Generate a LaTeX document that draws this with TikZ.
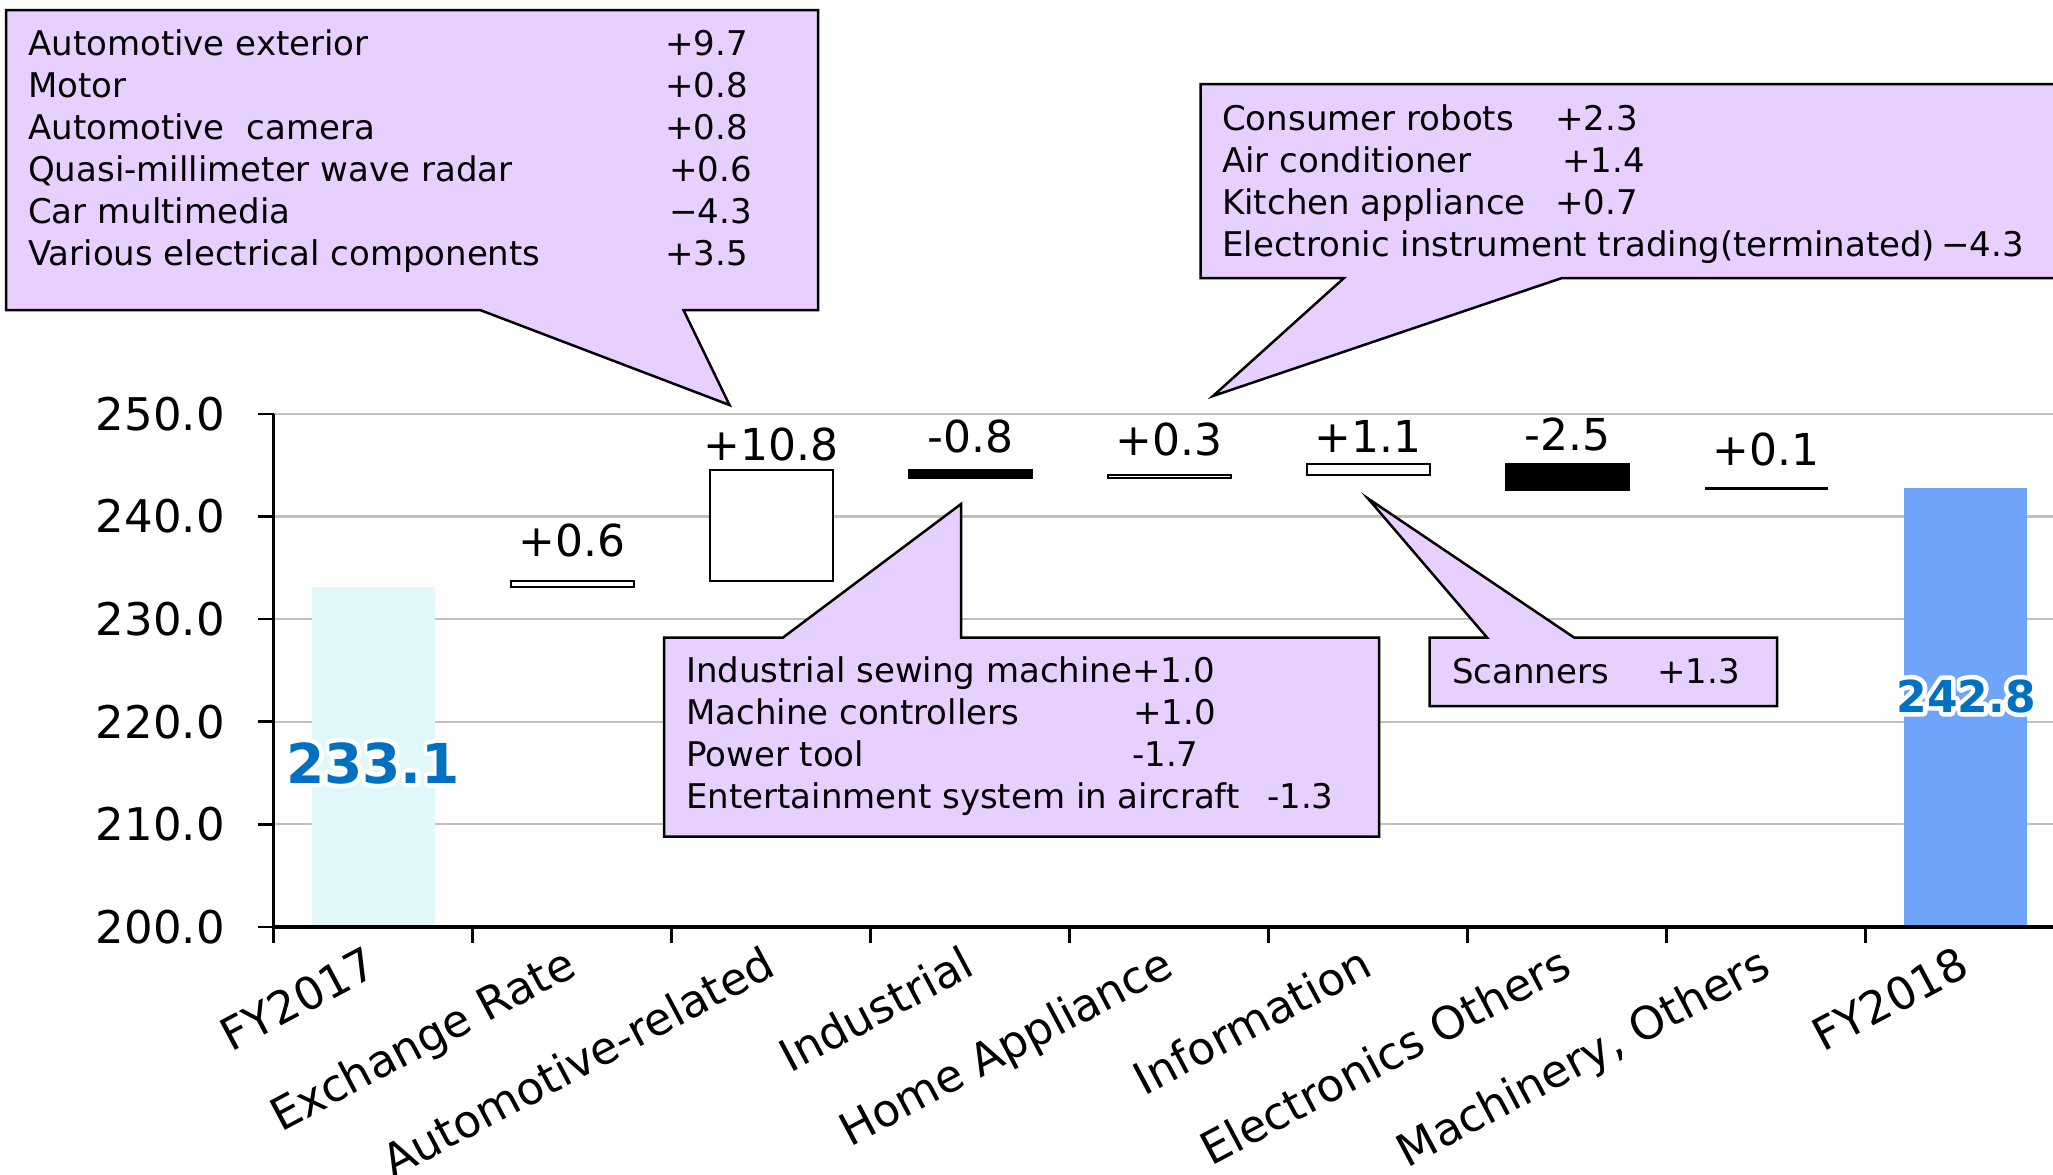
\documentclass[tikz,border=0pt]{standalone}
\usepackage{fontspec}
\setmainfont{DejaVu Sans}
\definecolor{gridgray}{RGB}{192,192,192}
\definecolor{startbar}{RGB}{224,248,250}
\definecolor{endbar}{RGB}{110,165,250}
\definecolor{valblue}{RGB}{0,112,192}
\definecolor{calloutfill}{RGB}{231,208,255}
% white outlined copy of a label, used as a glow behind the totals
\newcommand\glowcopy[1]{\special{pdf:literal direct q 1 j 1 1 1 RG 1 1 1 rg 2 Tr 9 w}#1\special{pdf:literal direct Q}}
\begin{document}
\begin{tikzpicture}[x=1pt,y=-1pt,
  gridline/.style={draw=gridgray,line width=2.2pt},
  axisline/.style={draw=black,line width=3.5pt},
  tickline/.style={draw=black,line width=2.5pt},
  ylabel/.style={font=\fontsize{45}{54}\selectfont,anchor=east,inner sep=0pt},
  catlabel/.style={font=\fontsize{45}{54}\selectfont,anchor=base east,rotate=28,inner sep=0pt},
  deltalabel/.style={font=\fontsize{44}{52}\selectfont,anchor=base,inner sep=0pt},
  upbar/.style={fill=white,draw=black,line width=2pt},
  downbar/.style={fill=black,draw=black,line width=2pt},
  callout/.style={fill=calloutfill,draw=black,line width=2.5pt,line join=miter},
  notetext/.style={font=\fontsize{34}{42}\selectfont,anchor=base west,inner sep=0pt},
  totallabel/.style={font=\bfseries\fontsize{#1}{#1}\selectfont,text=valblue,anchor=base,inner sep=0pt},
]
\useasboundingbox (0,0) rectangle (2053,1175);
\fill[white] (0,0) rectangle (2053,1175);

% horizontal grid lines (210 ... 250)
\foreach \yy in {413.75,516.4,619.05,721.7,824.35}
  \draw[gridline] (273.6,\yy) -- (2053,\yy);

% opening and closing totals
\fill[startbar] (311.6,927) rectangle (434.6,587.2);
\fill[endbar] (1903.6,927) rectangle (2026.6,487.7);

% bridge steps
\draw[upbar]   (510.6,587.2) rectangle (633.6,581.1);
\draw[upbar]   (709.6,581.1) rectangle (832.6,470.2);
\draw[downbar] (908.6,470.2) rectangle (1031.6,478.4);
\draw[upbar]   (1107.6,478.4) rectangle (1230.6,475.3);
\draw[upbar]   (1306.6,475.3) rectangle (1429.6,464.0);
\draw[downbar] (1505.6,464.0) rectangle (1628.6,489.7);
\draw[black,line width=2.5pt] (1704.6,488.7) -- (1827.6,488.7);

% axes and ticks
\draw[axisline] (273.6,413.75) -- (273.6,927);
\draw[axisline] (271.85,927) -- (2053,927);
\foreach \yy in {413.75,516.4,619.05,721.7,824.35,927}
  \draw[tickline] (257.6,\yy) -- (273.6,\yy);
\foreach \k in {0,...,8}
  \draw[tickline] ({273.6+199*\k},927) -- ({273.6+199*\k},943);

% value axis labels
\node[ylabel] (y250) at (225,413.75) {250.0};
\node[ylabel] (y240) at (225,516.4) {240.0};
\node[ylabel] (y230) at (225,619.05) {230.0};
\node[ylabel] (y220) at (225,721.7) {220.0};
\node[ylabel] (y210) at (225,824.35) {210.0};
\node[ylabel] (y200) at (225,927) {200.0};

% category labels
\node[catlabel] (c0) at (380.1,974) {FY2017};
\node[catlabel] (c1) at (579.1,974) {Exchange Rate};
\node[catlabel] (c2) at (778.1,974) {Automotive-related};
\node[catlabel] (c3) at (977.1,974) {Industrial};
\node[catlabel] (c4) at (1176.1,974) {Home Appliance};
\node[catlabel] (c5) at (1375.1,974) {Information};
\node[catlabel] (c6) at (1574.1,974) {Electronics Others};
\node[catlabel] (c7) at (1773.1,974) {Machinery, Others};
\node[catlabel] (c8) at (1972.1,974) {FY2018};

% step labels
\node[deltalabel] (d1) at (572.1,556) {+0.6};
\node[deltalabel] (d2) at (771.1,460) {+10.8};
\node[deltalabel] (d3) at (970.1,452) {-0.8};
\node[deltalabel] (d4) at (1169.1,455) {+0.3};
\node[deltalabel] (d5) at (1368.1,452) {+1.1};
\node[deltalabel] (d6) at (1567.1,450) {-2.5};
\node[deltalabel] (d7) at (1766.1,465) {+0.1};

% totals with a white glow behind them
\node[totallabel=55,text=white] (glow0) at (373.1,783) {\glowcopy{233.1}};
\node[totallabel=44,text=white] (glow8) at (1966,712) {\glowcopy{242.8}};
\node[totallabel=55] (tot0) at (373.1,783) {233.1};
\node[totallabel=44] (tot8) at (1966,712) {242.8};

% callout: automotive-related
\coordinate (tipA) at (729.5,405);
\draw[callout] (6,10) -- (818,10) -- (818,310) -- (683.5,310) -- (tipA) -- (480,310) -- (6,310) -- cycle;
\node[notetext] (a1) at (28,55)  {Automotive exterior};
\node[notetext] (a2) at (28,97)  {Motor};
\node[notetext] (a3) at (28,139) {Automotive~~camera};
\node[notetext] (a4) at (28,181) {Quasi-millimeter wave radar};
\node[notetext] (a5) at (28,223) {Car multimedia};
\node[notetext] (a6) at (28,265) {Various electrical components};
\node[notetext] (av1) at (665,55)  {+9.7};
\node[notetext] (av2) at (665,97)  {+0.8};
\node[notetext] (av3) at (665,139) {+0.8};
\node[notetext] (av4) at (669,181) {+0.6};
\node[notetext] (av5) at (669,223) {−4.3};
\node[notetext] (av6) at (665,265) {+3.5};

% callout: home appliance
\coordinate (tipH) at (1213,396);
\draw[callout] (1200.5,84) -- (2062,84) -- (2062,278) -- (1562,278) -- (tipH) -- (1344,278) -- (1200.5,278) -- cycle;
\node[notetext] (h1) at (1222,130) {Consumer robots};
\node[notetext] (h2) at (1222,172) {Air conditioner};
\node[notetext] (h3) at (1222,214) {Kitchen appliance};
\node[notetext] (h4) at (1222,256) {Electronic instrument trading(terminated)};
\node[notetext] (hv1) at (1555,130) {+2.3};
\node[notetext] (hv2) at (1562,172) {+1.4};
\node[notetext] (hv3) at (1555,214) {+0.7};
\node[notetext] (hv4) at (1941,256) {−4.3};

% callout: industrial
\coordinate (tipI) at (961,504);
\draw[callout] (664,637.5) -- (783,637.5) -- (tipI) -- (961,637.5) -- (1379,637.5) -- (1379,836.5) -- (664,836.5) -- cycle;
\node[notetext] (i1) at (686,682) {Industrial sewing machine+1.0};
\node[notetext] (i2) at (686,724) {Machine controllers};
\node[notetext] (i3) at (686,766) {Power tool};
\node[notetext] (i4) at (686,808) {Entertainment system in aircraft};
\node[notetext] (iv2) at (1133,724) {+1.0};
\node[notetext] (iv3) at (1132,766) {-1.7};
\node[notetext] (iv4) at (1267,808) {-1.3};

% callout: information
\coordinate (tipS) at (1368,498.5);
\draw[callout] (1429.5,637.5) -- (1487,637.5) -- (tipS) -- (1574,637.5) -- (1777,637.5) -- (1777,706) -- (1429.5,706) -- cycle;
\node[notetext] (s1) at (1452,683) {Scanners};
\node[notetext] (sv1) at (1657,683) {+1.3};
\end{tikzpicture}
\end{document}
